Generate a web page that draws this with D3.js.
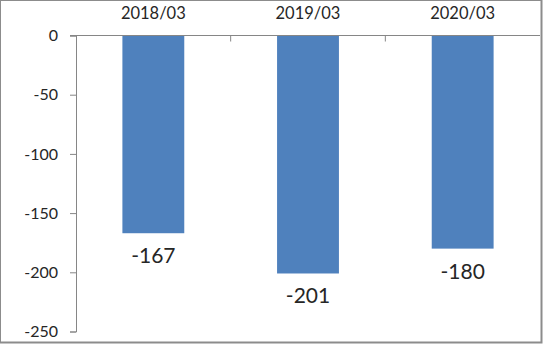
<!DOCTYPE html>
<html>
<head>
<meta charset="utf-8">
<script src="https://cdn.jsdelivr.net/npm/d3@7"></script>
<style>
  body { margin: 0; background: #fff; }
  text { font-family: Lato, "Open Sans", sans-serif; fill: #262626; }
</style>
</head>
<body>
<svg class="chart" width="543" height="344"></svg>
<script>
const categories = ['2018/03', '2019/03', '2020/03'];
const values = [-167, -201, -180];
const yTicks = [0, -50, -100, -150, -200, -250];

const svg = d3.select('.chart');
const width = +svg.attr('width');
const height = +svg.attr('height');

const margin = { top: 35.5, right: 3, bottom: 12, left: 76 };
const innerWidth = width - margin.left - margin.right;
const innerHeight = height - margin.top - margin.bottom;

// outer frame
svg.append('rect')
    .attr('x', 0.5).attr('y', 0.5)
    .attr('width', width - 2).attr('height', height - 2)
    .attr('fill', 'none')
    .attr('stroke', '#8c8c8c');
svg.append('path')
    .attr('d', `M${width - 1.5},0V${height - 1.5}H0`)
    .attr('fill', 'none')
    .attr('stroke', '#8c8c8c')
    .attr('stroke-width', 2);

const xScale = d3.scaleBand()
    .domain(categories)
    .range([0, innerWidth])
    .paddingInner(0.6)
    .paddingOuter(0.3);

const yScale = d3.scaleLinear()
    .domain([0, -250])
    .range([0, innerHeight - 0.5]);

const g = svg.append('g')
    .attr('transform', `translate(${margin.left}, ${margin.top})`);

// bars
g.selectAll('rect.bar')
  .data(values)
  .enter()
  .append('rect')
    .attr('class', 'bar')
    .attr('x', (d, i) => xScale(categories[i]))
    .attr('y', 0)
    .attr('width', xScale.bandwidth())
    .attr('height', d => yScale(d))
    .attr('fill', '#4f81bd');

// y axis (plain hyphen for negatives, like the original)
const yAxis = d3.axisLeft(yScale)
    .tickValues(yTicks)
    .tickFormat(d => String(d))
    .tickSize(6)
    .tickPadding(12);

const yAxisG = g.append('g').call(yAxis);
yAxisG.select('.domain').attr('stroke', '#868686');
yAxisG.selectAll('.tick line').attr('stroke', '#868686');
yAxisG.selectAll('.tick text')
    .style('font-size', '16px')
    .attr('fill', '#262626');

// zero line with category ticks pointing down
const step = xScale.step();
const boundaries = d3.range(categories.length + 1).map(i => i * step);
g.append('line')
    .attr('x1', -6).attr('x2', innerWidth)
    .attr('y1', yScale(0)).attr('y2', yScale(0))
    .attr('stroke', '#868686');
g.selectAll('line.ctick')
  .data(boundaries.slice(1, -1))
  .enter()
  .append('line')
    .attr('class', 'ctick')
    .attr('x1', d => d).attr('x2', d => d)
    .attr('y1', 0).attr('y2', 6)
    .attr('stroke', '#868686');

// category labels at the top
g.selectAll('text.cat')
  .data(categories)
  .enter()
  .append('text')
    .attr('class', 'cat')
    .attr('x', d => xScale(d) + xScale.bandwidth() / 2)
    .attr('y', -17)
    .attr('text-anchor', 'middle')
    .style('font-size', '16.5px')
    .text(d => d);

// value labels under the bars
g.selectAll('text.val')
  .data(values)
  .enter()
  .append('text')
    .attr('class', 'val')
    .attr('x', (d, i) => xScale(categories[i]) + xScale.bandwidth() / 2)
    .attr('y', d => yScale(d) + 30)
    .attr('text-anchor', 'middle')
    .style('font-size', '21px')
    .text(d => String(d));
</script>
</body>
</html>
